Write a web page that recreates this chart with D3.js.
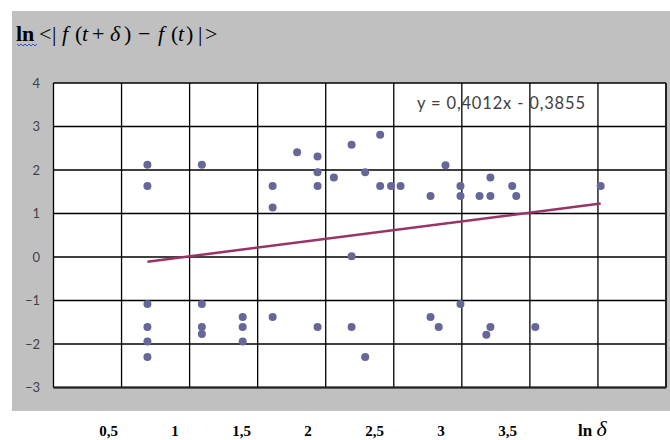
<!DOCTYPE html>
<html><head><meta charset="utf-8">
<script src="https://cdn.jsdelivr.net/npm/d3@7"></script>
<style>body{margin:0;background:#fff}svg{display:block}</style>
</head><body>
<svg id="chart" width="670" height="440"></svg>
<script>
// Data (ln δ, ln <|f(t+δ) − f(t)|>)
const lnDelta = [0.69,0.69,1.09,1.61,1.61,1.79,1.94,1.94,1.94,2.06,2.19,2.29,2.40,2.40,2.48,2.55,2.77,2.88,2.99,2.99,3.13,3.21,3.21,3.37,3.40,4.02,2.19,
  0.69,0.69,0.69,0.69,1.09,1.09,1.09,1.39,1.39,1.39,1.61,1.94,2.19,2.29,2.77,2.83,2.99,3.21,3.18,3.54];
const lnDiff = [2.12,1.63,2.12,1.63,1.14,2.41,2.31,1.95,1.63,1.83,2.58,1.95,2.81,1.63,1.63,1.63,1.40,2.11,1.63,1.40,1.40,1.40,1.83,1.63,1.40,1.63,0.02,
  -1.08,-1.61,-1.94,-2.30,-1.08,-1.61,-1.77,-1.38,-1.61,-1.94,-1.38,-1.61,-1.61,-2.30,-1.38,-1.61,-1.08,-1.61,-1.79,-1.61];
const trendSlope = 0.4012, trendIntercept = -0.3855;
const yTicks = [-3,-2,-1,0,1,2,3,4];
const xGrid = [0,0.5,1,1.5,2,2.5,3,3.5,4,4.5];
const bottomLabelValues = [0.5,1,1.5,2,2.5,3,3.5];
const bottomLabels = ["0,5","1","1,5","2","2,5","3","3,5"];

const svg = d3.select("#chart");
// gray chart area
svg.append("rect").attr("x",12).attr("y",11).attr("width",658).attr("height",400).attr("fill","#c0c0c0");

const x = d3.scaleLinear().domain([0,4.5]).range([53.5,666]);
const y = d3.scaleLinear().domain([-3,4]).range([387.5,83]);

svg.append("rect").attr("x",x(0)).attr("y",y(4)).attr("width",x(4.5)-x(0)).attr("height",y(-3)-y(4)).attr("fill","#fff");

// gridlines
const g = svg.append("g");
g.selectAll("line.h").data(yTicks).join("line").attr("class","h")
  .attr("x1",x(0)).attr("x2",x(4.5)).attr("y1",d=>y(d)).attr("y2",d=>y(d))
  .attr("stroke","#000").attr("stroke-width",1.3);
g.selectAll("line.v").data(xGrid).join("line").attr("class","v")
  .attr("x1",d=>x(d)).attr("x2",d=>x(d)).attr("y1",y(4)).attr("y2",y(-3))
  .attr("stroke","#000").attr("stroke-width",1.3);
// darker right/bottom frame
svg.append("line").attr("x1",x(4.5)).attr("x2",x(4.5)).attr("y1",y(4)).attr("y2",y(-3)).attr("stroke","#222").attr("stroke-width",2);
svg.append("line").attr("x1",x(0)).attr("x2",x(4.5)).attr("y1",y(-3)).attr("y2",y(-3)).attr("stroke","#222").attr("stroke-width",2);

// y axis labels
const yAxis = d3.axisLeft(y).tickValues(yTicks).tickSize(0).tickPadding(0).tickFormat(d3.format("d"));
const ya = svg.append("g").attr("transform","translate(40,0)").call(yAxis);
ya.select(".domain").remove();
ya.selectAll("text").attr("font-family","Lato, 'Open Sans', sans-serif").attr("font-size",13).attr("fill","#404050");

// trend line
const xs = d3.extent(lnDelta);
svg.append("line")
  .attr("x1",x(xs[0])).attr("y1",y(trendSlope*xs[0]+trendIntercept))
  .attr("x2",x(xs[1])).attr("y2",y(trendSlope*xs[1]+trendIntercept))
  .attr("stroke","#993366").attr("stroke-width",2.5);

// points
svg.append("g").selectAll("circle").data(lnDelta.map((d,i)=>[d,lnDiff[i]])).join("circle")
  .attr("cx",d=>x(d[0])).attr("cy",d=>y(d[1])).attr("r",4).attr("fill","#666699");

// equation
svg.append("text").attr("x",417).attr("y",109).attr("font-family","Lato, 'Open Sans', sans-serif")
  .attr("font-size",16.5).attr("fill","#404040").attr("textLength",168).text("y = 0,4012x - 0,3855");

// title
const title = svg.append("text").attr("y",41).attr("font-family","'Liberation Serif', 'DejaVu Serif', serif").attr("font-size",22).attr("fill","#000");
const parts = [
  {t:"ln", x:16, w:"bold"},
  {t:"<", x:39},
  {t:"|", x:52},
  {t:"f", x:62, i:true},
  {t:"(", x:75},
  {t:"t", x:82, i:true},
  {t:"+", x:92},
  {t:"δ", x:110, i:true},
  {t:")", x:124},
  {t:"−", x:138},
  {t:"f", x:158, i:true},
  {t:"(", x:171},
  {t:"t", x:178, i:true},
  {t:")", x:186},
  {t:"|", x:198},
  {t:">", x:205}
];
parts.forEach(p=>{
  const s = title.append("tspan").attr("x",p.x).text(p.t);
  if (p.w) s.attr("font-weight",p.w);
  if (p.i) s.attr("font-style","italic");
});
// spell-check squiggle under "ln"
const sq = d3.range(17,38,2).map((v,i)=>[v, i%2? 46:44]);
svg.append("path").attr("d",d3.line()(sq)).attr("fill","none").attr("stroke","#3050e0").attr("stroke-width",1);

// bottom labels
const xb = d3.scaleLinear().domain([0,3.5]).range([42,507.5]);
svg.append("g").selectAll("text").data(bottomLabelValues).join("text")
  .attr("x",d=>xb(d)).attr("y",436).attr("text-anchor","middle")
  .attr("font-family","'Liberation Serif', serif").attr("font-weight","bold").attr("font-size",15)
  .text((d,i)=>bottomLabels[i]);
const lnd = svg.append("text").attr("x",578).attr("y",436).attr("font-family","'Liberation Serif', serif").attr("fill","#000");
lnd.append("tspan").attr("font-weight","bold").attr("font-size",17).text("ln ");
lnd.append("tspan").attr("font-style","italic").attr("font-size",22).text("δ");
</script>
</body></html>
